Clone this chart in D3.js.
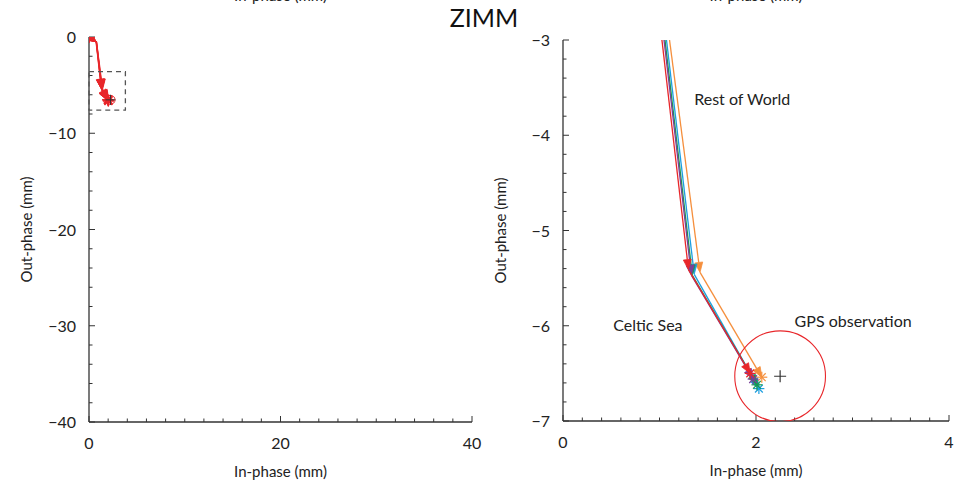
<!DOCTYPE html>
<html><head><meta charset="utf-8">
<script src="https://cdn.jsdelivr.net/npm/d3@7/dist/d3.min.js"></script>
<style>
body{margin:0;background:#fff;}
text{font-family:Lato,"Open Sans",sans-serif;fill:#222;}
</style></head>
<body><svg id="c" width="969" height="482"></svg>
<script>
// ---------- data ----------
const seriesNames = ["orange","cyan","green","purple","red"];
const seriesColors = ["#f58f3d","#1c9ee0","#179a48","#7a3f98","#e8262a"];
// phasor paths: origin -> first vertex -> after "Rest of World" -> after "Celtic Sea"
const pathX = [
  [0, 0.78, 1.42, 2.06],
  [0, 0.78, 1.36, 2.03],
  [0, 0.77, 1.34, 2.01],
  [0, 0.76, 1.33, 1.97],
  [0, 0.74, 1.30, 1.94]
];
const pathY = [
  [0, -0.5, -5.44, -6.54],
  [0, -0.5, -5.46, -6.66],
  [0, -0.5, -5.47, -6.62],
  [0, -0.5, -5.47, -6.56],
  [0, -0.5, -5.41, -6.50]
];
const gpsObs = [2.25, -6.53];
const gpsRadius = 0.47;
const zoomBox = [0, 3.8, -3.6, -7.6];
const leftXTicks = [0, 20, 40];
const leftYTicks = [0, -10, -20, -30, -40];
const rightXTicks = [0, 2, 4];
const rightYTicks = [-3, -4, -5, -6, -7];
const labels = [
  {text:"Rest of World", x:1.36, y:-3.68},
  {text:"Celtic Sea", x:0.52, y:-6.06},
  {text:"GPS observation", x:2.40, y:-6.01}
];

// ---------- layout ----------
const svg = d3.select("#c");
const fmt = d => (d < 0 ? "\u2212" + Math.abs(d) : String(d));

function panel(cfg){
  const x = d3.scaleLinear().domain(cfg.xd).range([cfg.x0, cfg.x1]);
  const y = d3.scaleLinear().domain(cfg.yd).range([cfg.y0, cfg.y1]);
  const g = svg.append("g");
  const id = "clip" + cfg.name;
  svg.append("clipPath").attr("id", id).append("rect")
    .attr("x", cfg.x0).attr("y", cfg.y0).attr("width", cfg.x1-cfg.x0).attr("height", cfg.y1-cfg.y0);

  // axes
  const ax = g.append("g").attr("stroke","#333").attr("stroke-width",1.3);
  ax.append("line").attr("x1",cfg.x0).attr("x2",cfg.x1).attr("y1",cfg.y1).attr("y2",cfg.y1);
  ax.append("line").attr("x1",cfg.x0).attr("x2",cfg.x0).attr("y1",cfg.y0).attr("y2",cfg.y1);
  const xmin = d3.range(cfg.xd[0], cfg.xd[1] + cfg.xminor/2, cfg.xminor);
  const ymin = d3.range(cfg.yd[1], cfg.yd[0] + cfg.yminor/2, cfg.yminor);
  const isMajor = (v, arr) => arr.some(t => Math.abs(t - v) < 1e-6);
  xmin.forEach(v => {
    const L = isMajor(v, cfg.xt) ? 6 : 3.5;
    ax.append("line").attr("x1",x(v)).attr("x2",x(v)).attr("y1",cfg.y1).attr("y2",cfg.y1-L).attr("stroke-width",1);
  });
  ymin.forEach(v => {
    const L = isMajor(v, cfg.yt) ? 6 : 3.5;
    ax.append("line").attr("x1",cfg.x0).attr("x2",cfg.x0+L).attr("y1",y(v)).attr("y2",y(v)).attr("stroke-width",1);
  });
  cfg.xt.forEach(v => g.append("text").attr("x",x(v)).attr("y",cfg.y1+27).attr("text-anchor","middle")
    .attr("font-size",16).text(fmt(v)));
  cfg.yt.forEach(v => g.append("text").attr("x",cfg.x0-13).attr("y",y(v)+6).attr("text-anchor","end")
    .attr("font-size",16).text(fmt(v)));
  g.append("text").attr("x",(cfg.x0+cfg.x1)/2).attr("y",cfg.y1+55).attr("text-anchor","middle")
    .attr("font-size",15).text("In-phase (mm)");
  g.append("text").attr("transform",`translate(${cfg.x0-57},${(cfg.y0+cfg.y1)/2}) rotate(-90)`)
    .attr("text-anchor","middle").attr("font-size",15).text("Out-phase (mm)");
  // cut-off label of the panel above (cropped in the reference too)
  g.append("text").attr("x",(cfg.x0+cfg.x1)/2).attr("y",1).attr("text-anchor","middle")
    .attr("font-size",15).text("In-phase (mm)");

  const pg = g.append("g").attr("clip-path",`url(#${id})`);
  return {x, y, g, pg};
}

function arrow(pg, x, y, xa, ya, xb, yb, color){
  const X1 = x(xa), Y1 = y(ya), X2 = x(xb), Y2 = y(yb);
  const ang = Math.atan2(Y2-Y1, X2-X1);
  const hl = 10, hw = 4;
  const bx = X2 - hl*Math.cos(ang), by = Y2 - hl*Math.sin(ang);
  pg.append("line").attr("x1",X1).attr("y1",Y1).attr("x2",bx).attr("y2",by)
    .attr("stroke",color).attr("stroke-width",1.3);
  const px = -Math.sin(ang)*hw, py = Math.cos(ang)*hw;
  pg.append("path").attr("d",`M${X2},${Y2}L${bx+px},${by+py}L${bx-px},${by-py}Z`)
    .attr("fill",color).attr("stroke",color).attr("stroke-width",0.8);
}
function asterisk(pg, X, Y, color, r){
  for(let k=0;k<4;k++){
    const a = k*Math.PI/4;
    pg.append("line").attr("x1",X-r*Math.cos(a)).attr("y1",Y-r*Math.sin(a))
      .attr("x2",X+r*Math.cos(a)).attr("y2",Y+r*Math.sin(a))
      .attr("stroke",color).attr("stroke-width",1.2);
  }
}
function drawSeries(P, allRed){
  seriesNames.forEach((n,i) => {
    const col = allRed ? seriesColors[4] : seriesColors[i];
    const xs = pathX[i], ys = pathY[i];
    for(let k=0;k<xs.length-1;k++) arrow(P.pg, P.x, P.y, xs[k], ys[k], xs[k+1], ys[k+1], col);
    asterisk(P.pg, P.x(xs[0]), P.y(ys[0]), col, 5.5);
    asterisk(P.pg, P.x(xs[xs.length-1]), P.y(ys[ys.length-1]), col, 5.5);
  });
}

// ---------- left panel ----------
const L = panel({name:"L", xd:[0,40], yd:[0,-40], x0:89, x1:472, y0:37, y1:422,
  xt:leftXTicks, yt:leftYTicks, xminor:2, yminor:2});
L.g.append("rect").attr("x",L.x(zoomBox[0])).attr("y",L.y(zoomBox[2]))
  .attr("width",L.x(zoomBox[1])-L.x(zoomBox[0])).attr("height",L.y(zoomBox[3])-L.y(zoomBox[2]))
  .attr("fill","none").attr("stroke","#555").attr("stroke-width",1.3).attr("stroke-dasharray","5,4");
drawSeries(L, true);
L.g.append("circle").attr("cx",L.x(gpsObs[0])).attr("cy",L.y(gpsObs[1]))
  .attr("r",L.x(gpsRadius)-L.x(0)).attr("fill","none").attr("stroke","#e8262a").attr("stroke-width",1);
L.g.append("path").attr("d",`M${L.x(gpsObs[0])-5},${L.y(gpsObs[1])}h10M${L.x(gpsObs[0])},${L.y(gpsObs[1])-5}v10`)
  .attr("stroke","#333").attr("stroke-width",1);

// ---------- right panel ----------
const R = panel({name:"R", xd:[0,4], yd:[-3,-7], x0:563, x1:949, y0:40, y1:421,
  xt:rightXTicks, yt:rightYTicks, xminor:0.2, yminor:0.2});
drawSeries(R, false);
R.pg.append("circle").attr("cx",R.x(gpsObs[0])).attr("cy",R.y(gpsObs[1]))
  .attr("r",R.x(gpsRadius)-R.x(0)).attr("fill","none").attr("stroke","#e8262a").attr("stroke-width",1.1);
R.g.append("path").attr("d",`M${R.x(gpsObs[0])-6},${R.y(gpsObs[1])}h12M${R.x(gpsObs[0])},${R.y(gpsObs[1])-6}v12`)
  .attr("stroke","#333").attr("stroke-width",1.2);
labels.forEach(l => R.g.append("text").attr("x",R.x(l.x)).attr("y",R.y(l.y)).attr("font-size",16).text(l.text));

// ---------- title ----------
svg.append("text").attr("x",484).attr("y",27).attr("text-anchor","middle")
  .attr("font-size",25).attr("font-weight",400).style("fill","#111").text("ZIMM");
</script></body></html>
